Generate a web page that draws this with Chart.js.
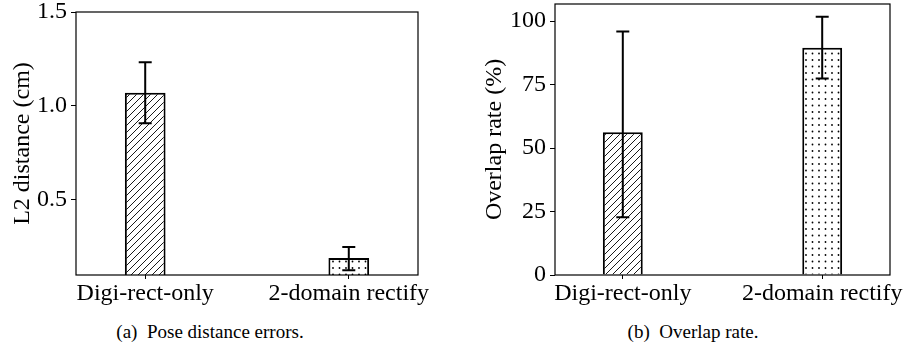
<!DOCTYPE html>
<html><head><meta charset="utf-8">
<script src="https://cdn.jsdelivr.net/npm/chart.js@4.4.1/dist/chart.umd.min.js"></script>
<style>
html,body{margin:0;padding:0;background:#fff;width:907px;height:348px;overflow:hidden;}
#ca{position:absolute;left:0;top:0;}
#cb{position:absolute;left:460px;top:0;}
.cap{position:absolute;top:322px;font-family:"Liberation Serif",serif;font-size:19px;line-height:1;color:#000;white-space:nowrap;transform:translateX(-50%);}
</style></head><body>
<canvas id="ca" width="460" height="310"></canvas>
<canvas id="cb" width="447" height="310"></canvas>
<div class="cap" style="left:210px">(a)&nbsp; Pose distance errors.</div>
<div class="cap" style="left:693px">(b)&nbsp; Overlap rate.</div>
<script>
// ---- data ----
const categories = ['Digi-rect-only', '2-domain rectify'];
const poseMean = [1.07, 0.19];
const poseErrPlus = [0.162, 0.059];
const poseErrMinus = [0.162, 0.065];
const poseTicks = [0.5, 1.0, 1.5];
const overlapMean = [56.2, 89.5];
const overlapErrPlus = [39.7, 12.2];
const overlapErrMinus = [33.5, 12.1];
const overlapTicks = [0, 25, 50, 75, 100];

// ---- hatch patterns ----
function hatchPattern() {
  const c = document.createElement('canvas');
  c.width = 7; c.height = 7;
  const g = c.getContext('2d');
  g.fillStyle = '#fff'; g.fillRect(0, 0, 7, 7);
  g.strokeStyle = '#000'; g.lineWidth = 0.9;
  for (const o of [-7, 0, 7]) {
    g.beginPath(); g.moveTo(o - 1, 8); g.lineTo(o + 8, -1); g.stroke();
  }
  return g.createPattern(c, 'repeat');
}
function dotPattern() {
  const c = document.createElement('canvas');
  c.width = 13; c.height = 13;
  const g = c.getContext('2d');
  g.fillStyle = '#fff'; g.fillRect(0, 0, 13, 13);
  g.fillStyle = '#000';
  for (const [x, y] of [[1.5, 1.5], [8, 1.5], [1.5, 8], [8, 8]]) {
    g.beginPath(); g.arc(x, y, 0.9, 0, Math.PI * 2); g.fill();
  }
  return g.createPattern(c, 'repeat');
}

const FONT = '"Liberation Serif", "Times New Roman", serif';

const framePlugin = {
  id: 'frame',
  afterDraw(chart) {
    const { ctx, chartArea: a } = chart;
    ctx.save();
    ctx.strokeStyle = '#000'; ctx.lineWidth = 1.2;
    ctx.strokeRect(a.left, a.top, a.right - a.left, a.bottom - a.top);
    ctx.restore();
  }
};

const errorBarPlugin = {
  id: 'errbars',
  afterDatasetsDraw(chart, args, opts) {
    const { ctx } = chart;
    const xs = chart.scales.x, ys = chart.scales.y;
    const mean = opts.mean, ep = opts.plus, em = opts.minus;
    ctx.save();
    ctx.strokeStyle = '#000'; ctx.lineWidth = 2;
    mean.forEach((m, i) => {
      const x = xs.getPixelForValue(i);
      const yt = ys.getPixelForValue(m + ep[i]);
      const yb = ys.getPixelForValue(m - em[i]);
      const cap = 6.5;
      ctx.beginPath();
      ctx.moveTo(x, yt); ctx.lineTo(x, yb);
      ctx.moveTo(x - cap, yt); ctx.lineTo(x + cap, yt);
      ctx.moveTo(x - cap, yb); ctx.lineTo(x + cap, yb);
      ctx.stroke();
    });
    ctx.restore();
  }
};

function makeChart(id, cfg) {
  return new Chart(document.getElementById(id), {
    type: 'bar',
    data: {
      datasets: [{
        data: cfg.mean.map((v, i) => ({ x: i, y: v })),
        backgroundColor: [hatchPattern(), dotPattern()],
        borderColor: '#000',
        borderWidth: 2,
        categoryPercentage: 1,
        barPercentage: 0.2
      }]
    },
    options: {
      responsive: false,
      animation: false,
      layout: { padding: { left: 0, right: cfg.padRight, top: cfg.padTop, bottom: 0 } },
      plugins: {
        legend: { display: false },
        tooltip: { enabled: false },
        errbars: { mean: cfg.mean, plus: cfg.plus, minus: cfg.minus }
      },
      scales: {
        x: {
          type: 'linear',
          offset: false,
          bounds: 'data',
          min: -0.34, max: 1.34,
          afterBuildTicks: s => { s.ticks = categories.map((c, i) => ({ value: i })); },
          afterFit: s => { s.height = 35; s.paddingLeft = 0; s.paddingRight = 0; },
          ticks: {
            autoSkip: false, maxRotation: 0, padding: 0,
            color: '#000', font: { family: FONT, size: 24 },
            callback: v => categories[v]
          },
          grid: { offset: false, drawOnChartArea: false, drawTicks: true, tickLength: 4, color: '#000' },
          border: { display: false }
        },
        y: {
          type: 'linear',
          min: cfg.yMin, max: cfg.yMax,
          afterBuildTicks: s => { s.ticks = cfg.ticks.map(v => ({ value: v })); },
          afterFit: s => { s.width = cfg.axisWidth; s.paddingTop = 0; s.paddingBottom = 0; },
          ticks: {
            padding: 4, color: '#000', font: { family: FONT, size: 24 },
            callback: v => v.toFixed(cfg.dec)
          },
          grid: { drawOnChartArea: false, drawTicks: true, tickLength: 5, color: '#000' },
          border: { display: false },
          title: {
            display: true, text: cfg.title, color: '#000',
            font: { family: FONT, size: 24, lineHeight: 1.2 },
            padding: { top: cfg.titlePad, bottom: 0 }
          }
        }
      }
    },
    plugins: [framePlugin, errorBarPlugin]
  });
}

makeChart('ca', {
  mean: poseMean, plus: poseErrPlus, minus: poseErrMinus, ticks: poseTicks,
  yMin: 0.1, yMax: 1.5, dec: 1, title: 'L2 distance (cm)',
  axisWidth: 76, titlePad: 8, padTop: 12, padRight: 42
});
makeChart('cb', {
  mean: overlapMean, plus: overlapErrPlus, minus: overlapErrMinus, ticks: overlapTicks,
  yMin: 0, yMax: 106.7, dec: 0, title: 'Overlap rate (%)',
  axisWidth: 95, titlePad: 20, padTop: 4, padRight: 17
});
</script>
</body></html>
